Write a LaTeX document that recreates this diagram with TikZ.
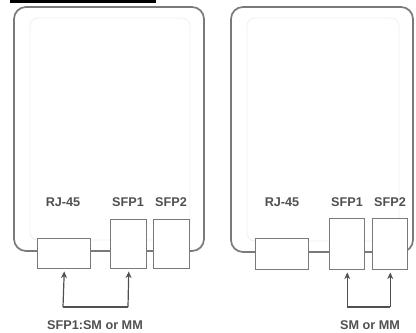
\documentclass[tikz,border=0pt]{standalone}
\usepackage{fontspec}
\setmainfont{Liberation Sans}
\usetikzlibrary{arrows.meta}
\definecolor{edge}{HTML}{7A7A7A}
\definecolor{txt}{HTML}{505050}
\tikzset{
  panel/.style={draw=edge, line width=1.3pt, rounded corners=9pt, fill=white},
  inner/.style={draw=gray!12, line width=0.6pt, rounded corners=6pt},
  port/.style={draw=edge, line width=1.1pt, fill=white, inner sep=0pt, anchor=north west},
  lbl/.style={font=\bfseries\fontsize{9.5}{11}\selectfont, text=txt, inner sep=0pt},
  link/.style={draw=txt, line width=0.9pt},
  tip/.style={-{Stealth[length=5pt,width=4.5pt]}}
}
\begin{document}
\begin{tikzpicture}[x=0.75pt,y=-0.75pt]
\useasboundingbox (0,0) rectangle (416,332);
\fill[black] (10,0) rectangle (156,3);
% left panel
\draw[panel] (14,7) rectangle (204,251);
\draw[inner] (30,18) rectangle (190,240);
\node[port, minimum width=53*0.75pt, minimum height=30*0.75pt] (lrj) at (37,238) {};
\node[port, minimum width=36*0.75pt, minimum height=49*0.75pt] (ls1) at (110,219) {};
\node[port, minimum width=36*0.75pt, minimum height=49*0.75pt] (ls2) at (153,219) {};
\node[lbl] (lrjl) at (63,202) {RJ-45};
\node[lbl] (ls1l) at (128,202) {SFP1};
\node[lbl] (ls2l) at (171,202) {SFP2};
\coordinate (la) at (63,307);
\coordinate (lb) at (128,307);
\draw[link] (la) -- (lb);
\draw[link,tip] (la) -- ([yshift=-1.5pt]lrj.south);
\draw[link,tip] (lb) -- ([yshift=-1.5pt]ls1.south);
\node[lbl] (lbot) at (95,325) {SFP1:SM or MM};
% right panel
\draw[panel] (231,7) rectangle (413,252);
\draw[inner] (247,18) rectangle (399,241);
\node[port, minimum width=53*0.75pt, minimum height=31*0.75pt] (rrj) at (255,238) {};
\node[port, minimum width=35*0.75pt, minimum height=51*0.75pt] (rs1) at (329,218) {};
\node[port, minimum width=35*0.75pt, minimum height=51*0.75pt] (rs2) at (372,218) {};
\node[lbl] (rrjl) at (282,202) {RJ-45};
\node[lbl] (rs1l) at (347,202) {SFP1};
\node[lbl] (rs2l) at (390,202) {SFP2};
\coordinate (ra) at (rs1.south |- 0,307);
\coordinate (rb) at (rs2.south |- 0,307);
\draw[link] (ra) -- (rb);
\draw[link,tip] (ra) -- ([yshift=-1.5pt]rs1.south);
\draw[link,tip] (rb) -- ([yshift=-1.5pt]rs2.south);
\node[lbl] (rbot) at (370,325) {SM or MM};
\end{tikzpicture}
\end{document}
